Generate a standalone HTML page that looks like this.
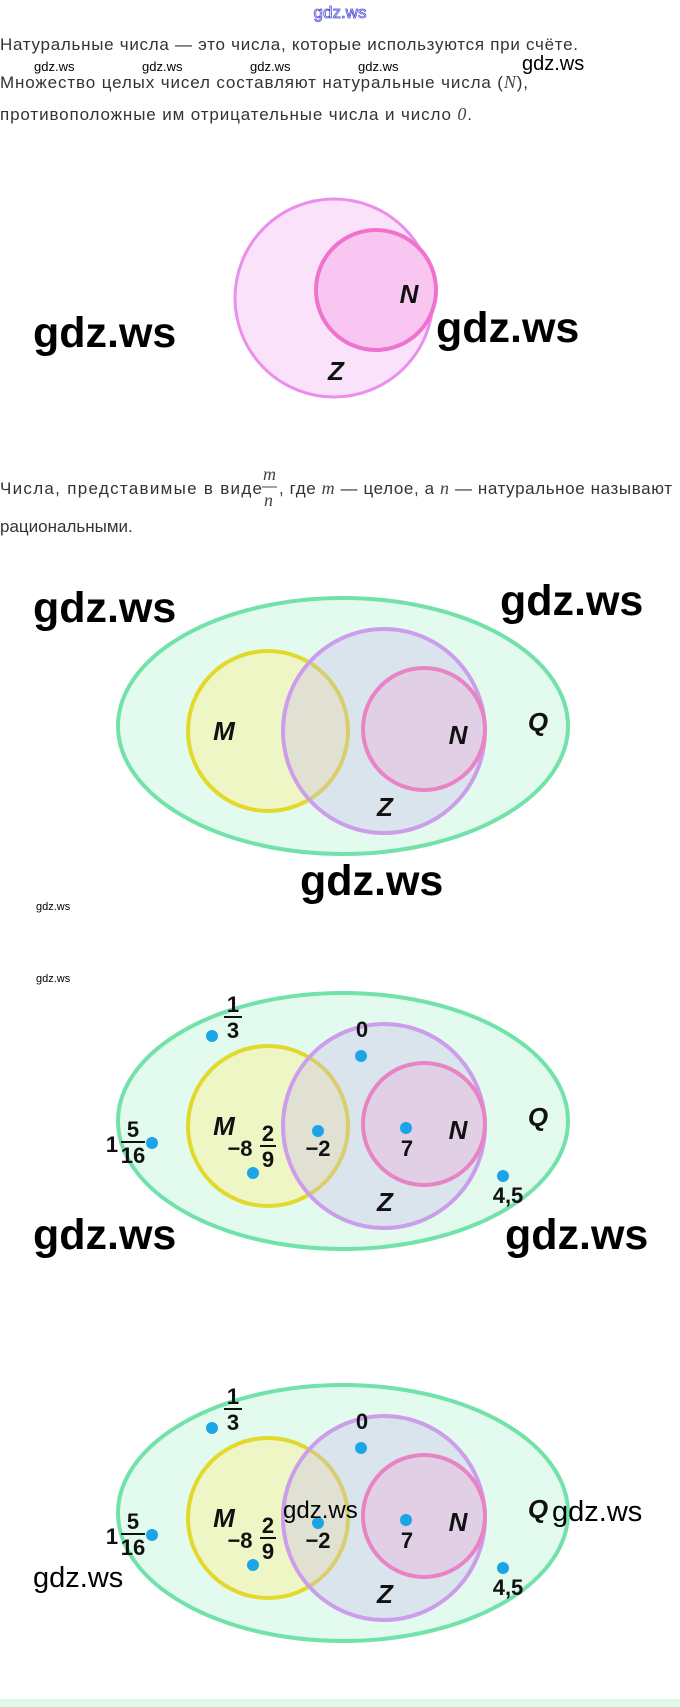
<!DOCTYPE html>
<html><head><meta charset="utf-8"><style>
html,body{margin:0;padding:0;background:#fff;}
svg{display:block;}
.t{font-family:"Liberation Sans",sans-serif;font-size:17px;fill:#333;}
.m{font-family:"Liberation Serif",serif;font-style:italic;font-size:18px;fill:#444;}
.w{font-family:"Liberation Sans",sans-serif;fill:#000;}
.b{font-weight:600;}
.L{font-family:"Liberation Sans",sans-serif;font-weight:bold;font-style:italic;font-size:26px;fill:#111;text-anchor:middle;}
.n{font-family:"Liberation Sans",sans-serif;font-size:22px;fill:#111;text-anchor:middle;font-weight:600;}
</style></head><body>
<svg width="680" height="1707" viewBox="0 0 680 1707" xmlns="http://www.w3.org/2000/svg">
<text x="340" y="18" text-anchor="middle" font-family="Liberation Sans,sans-serif" font-size="17" fill="#fff" stroke="#4b4bd8" stroke-width="0.8">gdz.ws</text>
<text class="t" x="0" y="50" textLength="578">Натуральные числа — это числа, которые используются при счёте.</text>
<text class="t" x="0" y="88" textLength="528">Множество целых чисел составляют натуральные числа (<tspan class="m">N</tspan>),</text>
<g class="w" font-size="13"><text x="34" y="71">gdz.ws</text><text x="142" y="71">gdz.ws</text><text x="250" y="71">gdz.ws</text><text x="358" y="71">gdz.ws</text></g>
<text class="w" x="522" y="70" font-size="20">gdz.ws</text>
<text class="t" x="0" y="120" textLength="472">противоположные им отрицательные числа и число <tspan class="m">0</tspan>.</text>

<!-- diagram 1 -->
<circle cx="334" cy="298" r="99" fill="#fbe2fb" stroke="#ea8fec" stroke-width="3"/>
<circle cx="376" cy="290" r="60" fill="#f9c6f1" stroke="#ef72cd" stroke-width="4"/>
<text class="L" x="409" y="303">N</text>
<text class="L" x="336" y="380">Z</text>
<text class="w b" x="33" y="347" font-size="43">gdz.ws</text>
<text class="w b" x="436" y="342" font-size="43">gdz.ws</text>

<text class="t" x="0" y="494" textLength="262">Числа, представимые в виде</text>
<text class="m" x="263" y="480" font-size="17">m</text><line x1="262" y1="487" x2="277" y2="487" stroke="#444" stroke-width="1"/><text class="m" x="264" y="506" font-size="17">n</text>
<text class="t" x="279" y="494" textLength="393">, где <tspan class="m">m</tspan> — целое, а <tspan class="m">n</tspan> — натуральное называют</text>
<text class="t" x="0" y="532">рациональными.</text>

<!-- diagram 2 -->
<g>
<ellipse cx="343" cy="726" rx="225" ry="128" fill="#e3fbee" stroke="#72e2aa" stroke-width="4"/>
<circle cx="268" cy="731" r="80" fill="#eef6c6" stroke="#e2d92c" stroke-width="4"/>
<ellipse cx="384" cy="731" rx="101" ry="102" fill="rgba(200,185,235,0.35)" stroke="#cc9de9" stroke-width="4"/>
<circle cx="424" cy="729" r="61" fill="rgba(235,170,215,0.35)" stroke="#e883c4" stroke-width="4"/>
<text class="L" x="224" y="740">M</text><text class="L" x="458" y="744">N</text><text class="L" x="538" y="731">Q</text><text class="L" x="385" y="816">Z</text>
</g>
<text class="w b" x="33" y="622" font-size="43">gdz.ws</text>
<text class="w b" x="500" y="615" font-size="43">gdz.ws</text>
<text class="w b" x="300" y="895" font-size="43">gdz.ws</text>
<text x="36" y="910" font-family="Liberation Sans,sans-serif" font-size="11">gdz.ws</text>
<text x="36" y="982" font-family="Liberation Sans,sans-serif" font-size="11">gdz.ws</text>

<!-- diagram 3 -->
<g transform="translate(0,395)">
<ellipse cx="343" cy="726" rx="225" ry="128" fill="#e3fbee" stroke="#72e2aa" stroke-width="4"/>
<circle cx="268" cy="731" r="80" fill="#eef6c6" stroke="#e2d92c" stroke-width="4"/>
<ellipse cx="384" cy="731" rx="101" ry="102" fill="rgba(200,185,235,0.35)" stroke="#cc9de9" stroke-width="4"/>
<circle cx="424" cy="729" r="61" fill="rgba(235,170,215,0.35)" stroke="#e883c4" stroke-width="4"/>
<text class="L" x="224" y="740">M</text><text class="L" x="458" y="744">N</text><text class="L" x="538" y="731">Q</text><text class="L" x="385" y="816">Z</text>
<g fill="#1ca5e6"><circle cx="212" cy="641" r="6"/><circle cx="361" cy="661" r="6"/><circle cx="152" cy="748" r="6"/><circle cx="253" cy="778" r="6"/><circle cx="318" cy="736" r="6"/><circle cx="406" cy="733" r="6"/><circle cx="503" cy="781" r="6"/></g>
<text class="n" x="233" y="617">1</text><line x1="224" y1="622" x2="242" y2="622" stroke="#111" stroke-width="2"/><text class="n" x="233" y="643">3</text>
<text class="n" x="362" y="642">0</text>
<text class="n" x="112" y="757">1</text><text class="n" x="133" y="742">5</text><line x1="121" y1="747" x2="145" y2="747" stroke="#111" stroke-width="2"/><text class="n" x="133" y="768">16</text>
<text class="n" x="240" y="761">−8</text><text class="n" x="268" y="746">2</text><line x1="260" y1="751" x2="276" y2="751" stroke="#111" stroke-width="2"/><text class="n" x="268" y="772">9</text>
<text class="n" x="318" y="761">−2</text>
<text class="n" x="407" y="761">7</text>
<text class="n" x="508" y="808">4,5</text>
</g>
<text class="w b" x="33" y="1249" font-size="43">gdz.ws</text>
<text class="w b" x="505" y="1249" font-size="43">gdz.ws</text>

<!-- diagram 4 -->
<g transform="translate(0,787)">
<ellipse cx="343" cy="726" rx="225" ry="128" fill="#e3fbee" stroke="#72e2aa" stroke-width="4"/>
<circle cx="268" cy="731" r="80" fill="#eef6c6" stroke="#e2d92c" stroke-width="4"/>
<ellipse cx="384" cy="731" rx="101" ry="102" fill="rgba(200,185,235,0.35)" stroke="#cc9de9" stroke-width="4"/>
<circle cx="424" cy="729" r="61" fill="rgba(235,170,215,0.35)" stroke="#e883c4" stroke-width="4"/>
<text class="L" x="224" y="740">M</text><text class="L" x="458" y="744">N</text><text class="L" x="538" y="731">Q</text><text class="L" x="385" y="816">Z</text>
<g fill="#1ca5e6"><circle cx="212" cy="641" r="6"/><circle cx="361" cy="661" r="6"/><circle cx="152" cy="748" r="6"/><circle cx="253" cy="778" r="6"/><circle cx="318" cy="736" r="6"/><circle cx="406" cy="733" r="6"/><circle cx="503" cy="781" r="6"/></g>
<text class="n" x="233" y="617">1</text><line x1="224" y1="622" x2="242" y2="622" stroke="#111" stroke-width="2"/><text class="n" x="233" y="643">3</text>
<text class="n" x="362" y="642">0</text>
<text class="n" x="112" y="757">1</text><text class="n" x="133" y="742">5</text><line x1="121" y1="747" x2="145" y2="747" stroke="#111" stroke-width="2"/><text class="n" x="133" y="768">16</text>
<text class="n" x="240" y="761">−8</text><text class="n" x="268" y="746">2</text><line x1="260" y1="751" x2="276" y2="751" stroke="#111" stroke-width="2"/><text class="n" x="268" y="772">9</text>
<text class="n" x="318" y="761">−2</text>
<text class="n" x="407" y="761">7</text>
<text class="n" x="508" y="808">4,5</text>
</g>
<text class="w" x="283" y="1518" font-size="24">gdz.ws</text>
<text class="w" x="552" y="1521" font-size="29">gdz.ws</text>
<text class="w" x="33" y="1587" font-size="29">gdz.ws</text>
<rect x="0" y="1699" width="680" height="8" fill="#dff8e8"/>
</svg>
</body></html>
